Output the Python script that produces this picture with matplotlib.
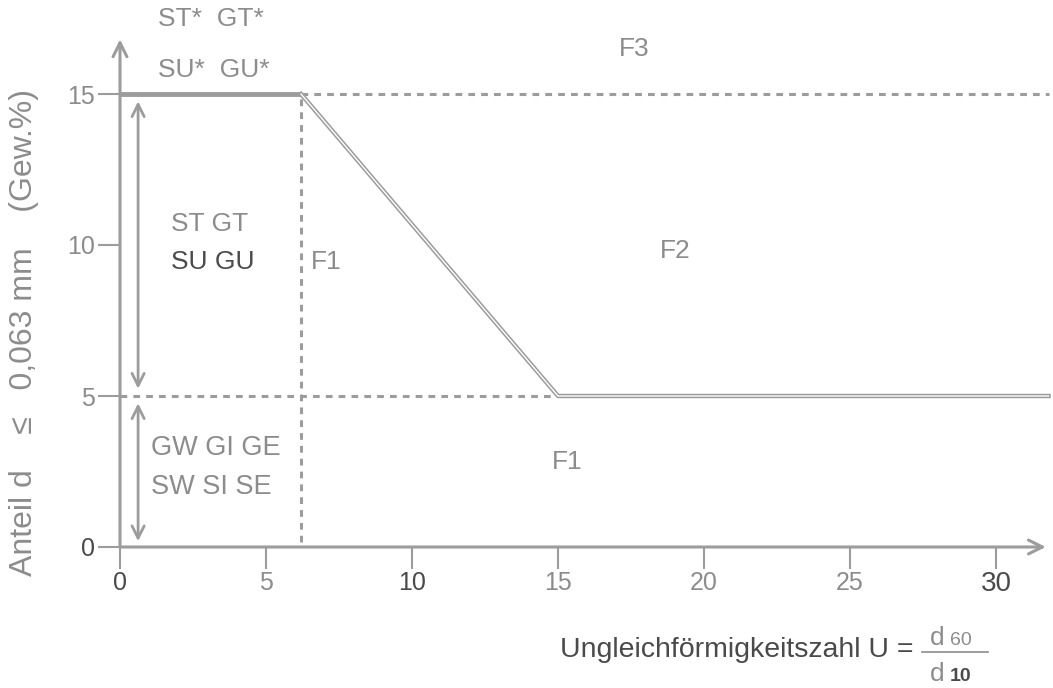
import matplotlib
matplotlib.use("Agg")
import matplotlib.pyplot as plt
from matplotlib.lines import Line2D

# Grenzlinie zwischen F1 / F2 (Ungleichfoermigkeitszahl U, Feinkornanteil in Gew.%)
knick_u = [6.2, 15]
knick_anteil = [15, 5]
u_max = 31.8
y_max = 16.9

x_ticks = [0, 5, 10, 15, 20, 25, 30]
y_ticks = [0, 5, 10, 15]

grau = "#9c9c9c"
text_grau = "#8c8c8c"
dunkel = "#4a4a4a"

plt.rcParams['font.family'] = ['Liberation Sans', 'DejaVu Sans']

fig = plt.figure(figsize=(10.53, 6.88), dpi=100)
ax = fig.add_axes([120/1053, 141/688, 931/1053, 547/688])
ax.set_xlim(0, 931/29.2)
ax.set_ylim(0, 547/30.2)
for s in ax.spines.values():
    s.set_visible(False)

ax.set_xticks(x_ticks)
ax.set_yticks(y_ticks)
ax.tick_params(axis='both', length=16, width=1.5, color=grau, labelsize=18, labelcolor=text_grau)
ax.tick_params(axis='x', pad=1)
ax.tick_params(axis='y', pad=2)
for lab in ax.get_xticklabels():
    if lab.get_text() in ('0', '10', '30'):
        lab.set_color(dunkel)
    if lab.get_text() == '30':
        lab.set_fontsize(20)
for lab in ax.get_yticklabels():
    if lab.get_text() == '0':
        lab.set_color(dunkel)

# Achsen mit Pfeilen
ax.annotate('', xy=(0, y_max), xytext=(0, -0.05), annotation_clip=False,
            arrowprops=dict(arrowstyle='->', color=grau, lw=2.2, mutation_scale=25))
ax.annotate('', xy=(u_max, 0), xytext=(-0.05, 0), annotation_clip=False,
            arrowprops=dict(arrowstyle='->', color=grau, lw=2.2, mutation_scale=25))

# Gestrichelte Hilfslinien
strich = dict(color=grau, lw=2.2, dashes=(2.2, 2.0), clip_on=False)
ax.plot([0, knick_u[1]], [knick_anteil[1], knick_anteil[1]], **strich)
ax.plot([knick_u[0], u_max], [knick_anteil[0], knick_anteil[0]], **strich)
ax.plot([knick_u[0], knick_u[0]], [0.15, knick_anteil[0]], **strich)

# Grenzlinien
ax.plot([0, knick_u[0]], [knick_anteil[0], knick_anteil[0]], color=grau, lw=3.5, solid_capstyle='butt')
grenz_u = [knick_u[0], knick_u[1], u_max]
grenz_a = [knick_anteil[0], knick_anteil[1], knick_anteil[1]]
ax.plot(grenz_u, grenz_a, color=grau, lw=3.2, clip_on=False)
ax.plot(grenz_u, grenz_a, color='white', lw=1.0, clip_on=False)

# Doppelpfeile
ax.annotate('', xy=(0.62, 14.85), xytext=(0.62, 5.15),
            arrowprops=dict(arrowstyle='<->', color=grau, lw=2, mutation_scale=22))
ax.annotate('', xy=(0.62, 4.85), xytext=(0.62, 0.1),
            arrowprops=dict(arrowstyle='<->', color=grau, lw=2, mutation_scale=22))

# Beschriftungen der Bereiche
fs = 19
ax.text(1.3, 17.5, 'ST*  GT*', fontsize=fs, color=text_grau, va='center', clip_on=False)
ax.text(1.3, 15.8, 'SU*  GU*', fontsize=fs, color=text_grau, va='center')
ax.text(17.6, 16.5, 'F3', fontsize=fs, color=text_grau, ha='center', va='center')
ax.text(1.75, 10.7, 'ST GT', fontsize=fs, color=text_grau, va='center')
ax.text(1.75, 9.45, 'SU GU', fontsize=fs, color=dunkel, va='center')
ax.text(6.55, 9.45, 'F1', fontsize=fs, color=text_grau, va='center')
ax.text(19.0, 9.8, 'F2', fontsize=fs, color=text_grau, ha='center', va='center')
ax.text(1.05, 3.28, 'GW GI GE', fontsize=19.5, color=text_grau, va='center')
ax.text(1.05, 2.0, 'SW SI SE', fontsize=19.5, color=text_grau, va='center')
ax.text(15.3, 2.8, 'F1', fontsize=fs, color=text_grau, ha='center', va='center')

# Achsenbeschriftungen
fig.text(24/1053, 1 - 332/688, 'Anteil d    \u2264   0,063 mm    (Gew.%)', rotation=90,
         fontsize=23, color=text_grau, ha='center', va='center')
fig.text(913/1053, 1 - 657/688, 'Ungleichf\u00f6rmigkeitszahl U =', fontsize=20.5,
         color=dunkel, ha='right', va='baseline')
fig.text(930/1053, 1 - 645/688, 'd', fontsize=19, color=text_grau, ha='left', va='baseline')
fig.text(950/1053, 1 - 645/688, '60', fontsize=14, color=text_grau, ha='left', va='baseline')
fig.text(930/1053, 1 - 681/688, 'd', fontsize=19, color=text_grau, ha='left', va='baseline')
fig.text(950/1053, 1 - 681/688, '10', fontsize=14, color=dunkel, ha='left', va='baseline',
         fontweight='bold')
fig.add_artist(Line2D([922/1053, 988/1053], [1 - 652/688, 1 - 652/688],
                      transform=fig.transFigure, color=text_grau, lw=1.2))

fig.savefig('out.png', dpi=100, facecolor='white')
